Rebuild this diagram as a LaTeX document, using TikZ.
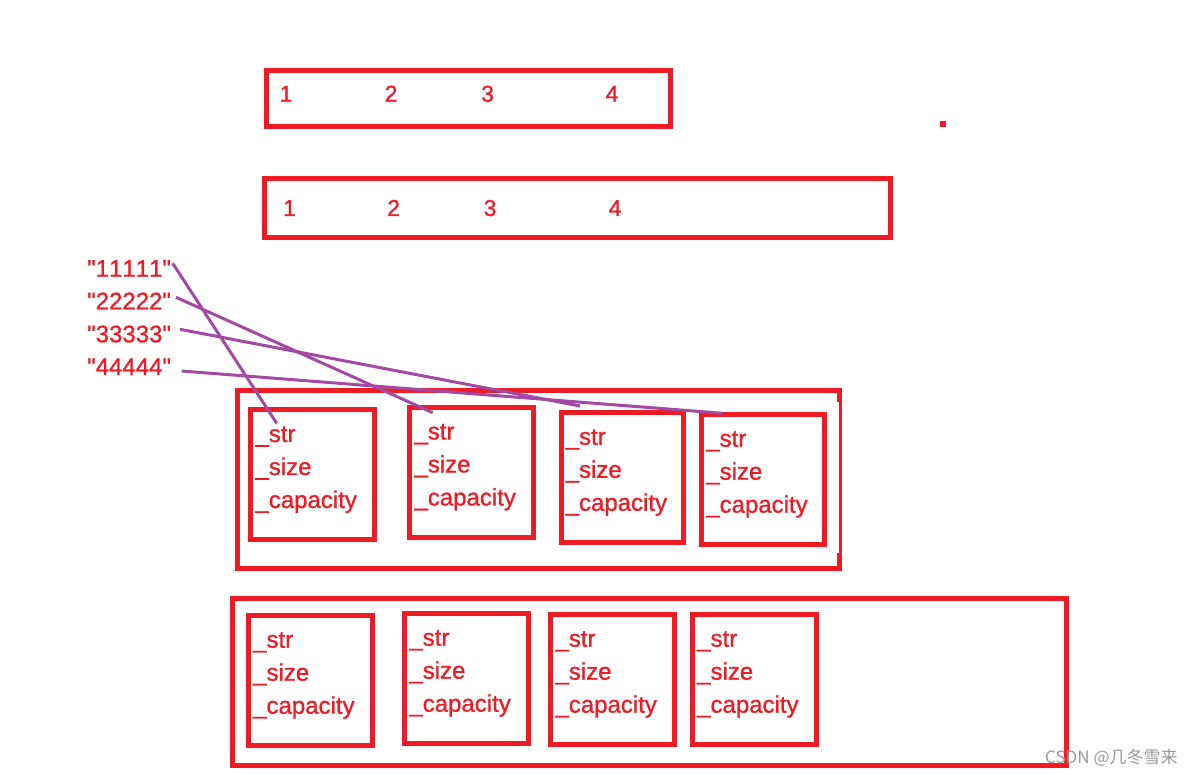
\documentclass[tikz,border=0pt]{standalone}
\usepackage{fontspec}
\setmainfont{Liberation Sans}
\newfontfamily\lblfont{Liberation Sans}[FakeBold=1,Kerning=Off]
\newfontfamily\cjkfont{Noto Sans CJK SC}
\definecolor{pred}{HTML}{ED1C24}
\definecolor{ppurple}{HTML}{A349A4}
\newcommand\fieldbx[5]{%
  \node[redbox, minimum width={(#4)-(#2)}, minimum height={(#5)-(#3)}] (#1) at (#2,#3) {};
  \node[lbl] (#1-s) at (#2+4.5,#3+32) {\_str};
  \node[lbl] (#1-z) at (#2+4.5,#3+65) {\_size};
  \node[lbl] (#1-c) at (#2+4.5,#3+98) {\_capacity};}
\begin{document}
\begin{tikzpicture}[x=1pt,y=-1pt,
  redbox/.style={draw=pred, line width=5pt, inner sep=0pt, outer sep=0pt, anchor=north west},
  lbl/.style={text=pred, inner sep=0pt, anchor=base west, font=\lblfont\fontsize{24}{24}\selectfont},
  num/.style={lbl, font=\lblfont\fontsize{23}{23}\selectfont},
  link/.style={draw=ppurple, line width=3pt}]
\useasboundingbox (0,0) rectangle (1197,775);

% first array
\node[redbox, minimum width=404pt, minimum height=56.5pt] (arr1) at (266.5,70.5) {};
\node[num] (a11) at (279.5,101.7) {1};
\node[num] (a12) at (384.5,101.7) {2};
\node[num] (a13) at (481,101.7) {3};
\node[num] (a14) at (605.5,101.7) {4};

% dot
\node[fill=pred, minimum size=6pt, inner sep=0pt] (dot) at (943,124) {};

% second array
\node[redbox, minimum width=625.4pt, minimum height=59pt] (arr2) at (264.8,178.5) {};
\node[num] (a21) at (283,216) {1};
\node[num] (a22) at (387,216) {2};
\node[num] (a23) at (483.5,216) {3};
\node[num] (a24) at (608.5,216) {4};

% strings
\node[lbl] (s1) at (87,276.7) {\textquotedbl11111\textquotedbl};
\node[lbl] (s2) at (87,309.3) {\textquotedbl22222\textquotedbl};
\node[lbl] (s3) at (87,342.3) {\textquotedbl33333\textquotedbl};
\node[lbl] (s4) at (87,375) {\textquotedbl44444\textquotedbl};

% middle container
\node[redbox, minimum width=601.8pt, minimum height=177.8pt] (mid) at (237.2,390.5) {};
\fill[white] (836.4,402) rectangle (839,553);
\fieldbx{m1}{250.8}{410}{374.2}{539.2}
\fieldbx{m2}{409.8}{407.5}{533.5}{537.5}
\fieldbx{m3}{561}{412.8}{683.6}{542.3}
\fieldbx{m4}{701.6}{414.7}{824}{544.5}

% bottom container
\node[redbox, minimum width=834.2pt, minimum height=166.7pt] (bot) at (232.5,598.5) {};
\fieldbx{b1}{248.5}{615.7}{372.3}{745}
\fieldbx{b2}{404.7}{613.7}{528.3}{743}
\fieldbx{b3}{550.8}{614.7}{674.2}{744.2}
\fieldbx{b4}{692.5}{614.7}{816.5}{744.2}

% connectors
\coordinate (p1) at (172.7,263.3);
\coordinate (q1) at (276.7,423.3);
\coordinate (p2) at (176,297.3);
\coordinate (q2) at (432.7,412.7);
\coordinate (p3) at (180,329.3);
\coordinate (q3) at (580,406);
\coordinate (p4) at (181.7,371);
\coordinate (q4) at (722.7,413.3);
\draw[link] (p1) -- (q1);
\draw[link] (p2) -- (q2);
\draw[link] (p3) -- (q3);
\draw[link] (p4) -- (q4);

% watermark
\node[anchor=base west, inner sep=0pt, text=black!40, font=\cjkfont\fontsize{17}{17}\selectfont] (wm) at (1045,763) {CSDN @几冬雪来};
\end{tikzpicture}
\end{document}
